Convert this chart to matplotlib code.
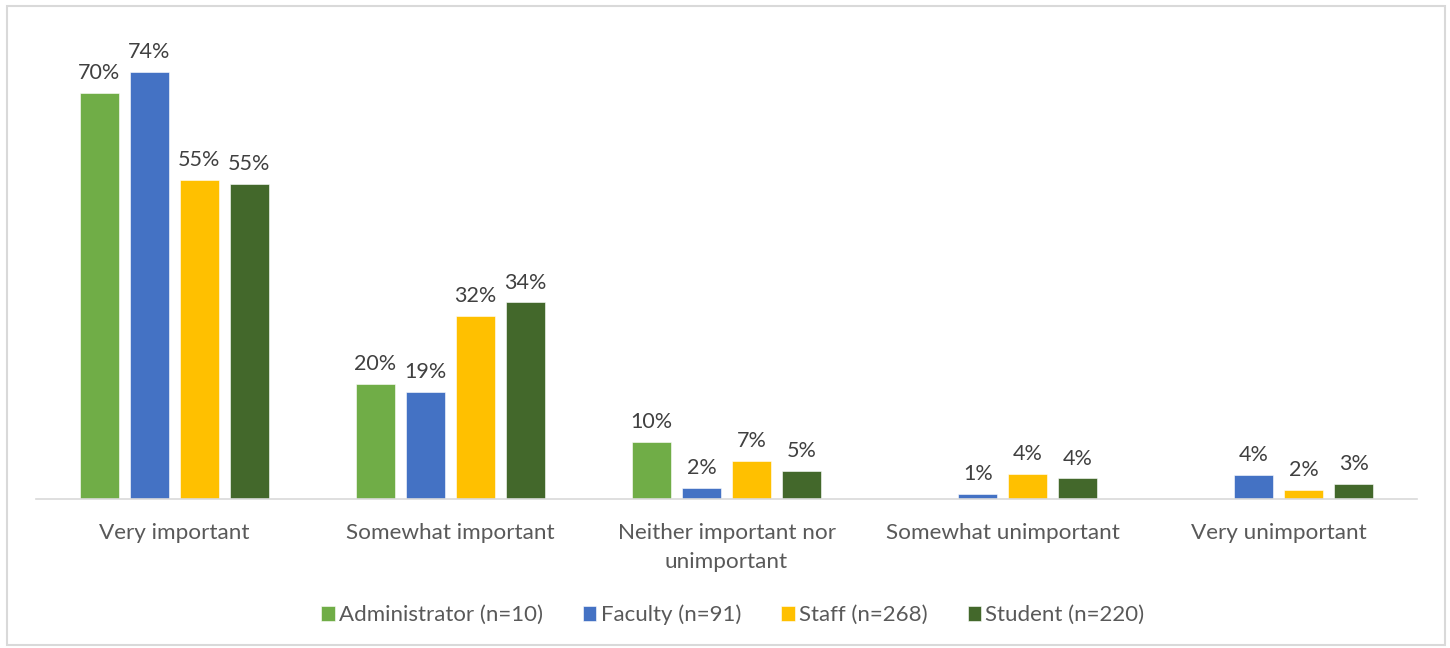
import numpy as np
import matplotlib.pyplot as plt
from matplotlib.patches import Rectangle

categories = ['Very important', 'Somewhat important', 'Neither important nor\nunimportant',
              'Somewhat unimportant', 'Very unimportant']
series = ['Administrator (n=10)', 'Faculty (n=91)', 'Staff (n=268)', 'Student (n=220)']
admin = [70.4, 19.9, 9.9, 0, 0]
faculty = [74.0, 18.6, 1.9, 0.9, 4.2]
staff = [55.3, 31.7, 6.6, 4.3, 1.6]
student = [54.6, 34.1, 4.9, 3.6, 2.6]
colors = ['#70AD47', '#4472C4', '#FFC000', '#43682B']

plt.rcParams['font.family'] = ['Lato', 'DejaVu Sans']

fig = plt.figure(figsize=(14.5, 6.48), dpi=100)
ax = fig.add_axes([36/1450, 149/648, 1381/1450, 461.6/648])

x = np.arange(len(categories))
w = 0.141
step = 0.181
for i, vals in enumerate([admin, faculty, staff, student]):
    pos = x + (i - 1.5) * step
    ax.bar(pos, vals, w, color=colors[i], label=series[i],
           edgecolor='white', linewidth=0.4)
    for p, v in zip(pos, vals):
        if v > 0:
            ax.annotate('%d%%' % round(v), (p, v), xytext=(0, 7), textcoords='offset points',
                        ha='center', va='bottom', fontsize=15.5, color='#404040')

ax.set_xlim(-0.5, 4.5)
ax.set_ylim(0, 80)
ax.set_yticks([])
for s in ['left', 'right', 'top']:
    ax.spines[s].set_visible(False)
ax.spines['bottom'].set_color('#D9D9D9')
ax.spines['bottom'].set_linewidth(1.2)
ax.set_xticks(x)
ax.set_xticklabels(categories, fontsize=16.2, color='#595959', va='top', linespacing=1.55)
ax.tick_params(axis='x', length=0, pad=17.5)

leg = fig.legend(loc='center', bbox_to_anchor=(733/1450, 1 - 615/648), ncol=4, frameon=False,
                 fontsize=16, handlelength=0.6, handleheight=0.6, handletextpad=0.2,
                 columnspacing=1.8)
for t in leg.get_texts():
    t.set_color('#595959')

fig.patches.append(Rectangle((7/1450, 3/648), 1438/1450, 639/648, transform=fig.transFigure,
                             fill=False, edgecolor='#D9D9D9', linewidth=1.5))

fig.savefig('out.png', dpi=100)
